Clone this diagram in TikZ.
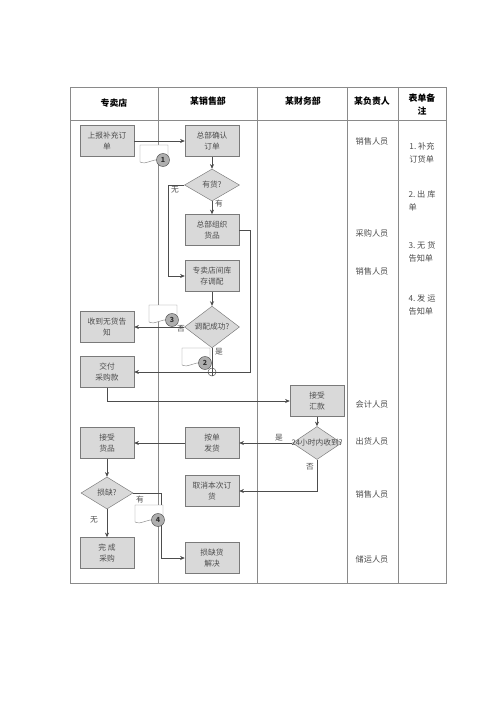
\documentclass[tikz,border=0pt]{standalone}
\usepackage{fontspec}
\setmainfont{Liberation Serif}
\newfontfamily\cjk{Noto Sans CJK SC}
\usepackage{tikz}
\usetikzlibrary{arrows.meta,positioning,shapes.geometric,calc}
\definecolor{boxfill}{HTML}{D9D9D9}
\definecolor{boxline}{HTML}{7A7A7A}
\definecolor{rule}{HTML}{8A8A8A}
\definecolor{ink}{HTML}{4D4D4D}

% document mark with numbered disc, #1/#2 = disc centre, #3 = number
\newcommand{\docmark}[4]{%
  \draw[rule, fill=white] (#1-23,#2-15) -- (#1+5,#2-15) -- (#1+5,#2-2)
    -- (#1-4,#2) .. controls (#1-12,#2-1) and (#1-16,#2+5) .. (#1-23,#2+2) -- cycle;
  \node[disc] (#4) at (#1,#2) {#3};
}

\begin{document}
\begin{tikzpicture}[yscale=-1, x=0.03cm, y=0.03cm, >=Stealth,
  every node/.style={font=\cjk\fontsize{6.6}{9}\selectfont, text=ink},
  stepbox/.style={draw=boxline, fill=boxfill, minimum width=54*0.03cm, minimum height=31*0.03cm, inner sep=0pt, align=center},
  decision/.style={diamond, draw=boxline, fill=boxfill, minimum width=55*0.03cm, minimum height=32*0.03cm, inner sep=0pt},
  flow/.style={draw=ink, semithick, -{Stealth[length=4pt,width=3.5pt]}},
  link/.style={draw=ink, semithick},
  disc/.style={circle, draw=ink, fill=boxfill!80!black, minimum size=13*0.03cm, inner sep=0pt, font=\cjk\bfseries\fontsize{6}{6}\selectfont, text=black!80},
  head/.style={font=\cjk\bfseries\fontsize{7.6}{11}\selectfont, text=black, align=center},
  who/.style={font=\cjk\fontsize{7}{9}\selectfont},
  note/.style={font=\cjk\fontsize{7}{10.5}\selectfont, align=left}]
\useasboundingbox (0,0) rectangle (500,707);

% swimlane table
\draw[rule, thick] (70,87) rectangle (446,583);
\draw[rule] (70,120) -- (446,120);
\foreach \lx in {158,257,347,398}
  \draw[rule] (\lx,87) -- (\lx,583);

\node[head] (hshop) at (114,103) {专卖店};
\node[head] (hsale) at (208,101) {某销售部};
\node[head] (hfin)  at (303,101) {某财务部};
\node[head] (hboss) at (372,101) {某负责人};
\node[head] (hform) at (422,105) {表单备\\注};

% steps
\node[stepbox] (report)  at (107,141) {上报补充订\\单};
\node[stepbox] (confirm) at (212,141) {总部确认\\订单};
\node[decision] (stock)  at (212,185) {有货?};
\node[stepbox] (gather)  at (212,230) {总部组织\\货品};
\node[stepbox] (swap)    at (212,276) {专卖店间库\\存调配};
\node[decision] (swapok) at (212,327) {调配成功?};
\node[stepbox] (nogoods) at (107,327) {收到无货告\\知};
\node[stepbox] (pay)     at (107,372) {交付\\采购款};
\node[stepbox] (remit)   at (317,401) {接受\\汇款};
\node[decision, minimum width=49*0.03cm, minimum height=33*0.03cm,
      label={[font=\cjk\fontsize{6.6}{9}\selectfont, text=ink]center:24小时内收到?}] (inday) at (317,443) {};
\node[stepbox] (ship)    at (212,443) {按单\\发货};
\node[stepbox] (cancel)  at (212,491) {取消本次订\\货};
\node[stepbox] (receive) at (107,443) {接受\\货品};
\node[decision, minimum width=52*0.03cm] (damage) at (107,493) {损缺?};
\node[stepbox] (done)    at (107,553) {完\ 成\\采购};
\node[stepbox] (repair)  at (212,558) {损缺货\\解决};

\coordinate (merge) at (212,372);

% connectors
\draw[flow] (report) -- (confirm);
\draw[flow] (confirm) -- (stock);
\draw[flow] (stock) -- (gather);
\draw[flow] (stock.west) -- ++(-16,0) |- (swap.west);
\draw[flow] (swap) -- (swapok);
\draw[flow] (swapok) -- (nogoods);
\draw[link] (swapok.south) -- (merge);
\draw[flow] (gather.east) -- ++(11,0) |- (pay.east);
\draw[flow] (pay.south) |- (remit.west);
\draw[flow] (remit) -- (inday);
\draw[flow] (inday) -- (ship);
\draw[flow] (inday.south) |- (cancel.east);
\draw[flow] (ship) -- (receive);
\draw[flow] (receive) -- (damage);
\draw[flow] (damage) -- (done);
\draw[flow] (damage.east) -- ++(28,0) |- (repair.west);

\draw[ink, fill=white] (merge) circle (4);
\draw[ink] ($(merge)+(-4,0)$) -- ++(8,0) ($(merge)+(0,-4)$) -- ++(0,8);

% branch labels
\node (lno1)  at (175,190) {无};
\node (lyes1) at (219,204) {有};
\node (lno2)  at (181,329) {否};
\node (lyes2) at (219,352) {是};
\node (lyes3) at (279,438) {是};
\node (lno3)  at (310,467) {否};
\node (lhas)  at (140,500) {有};
\node (lnone) at (94,520)  {无};

% forms
\docmark{163}{160}{1}{form1}
\docmark{205}{363}{2}{form2}
\docmark{172}{320}{3}{form3}
\docmark{158}{520}{4}{form4}

% persons in charge
\node[who] (p1) at (372,141) {销售人员};
\node[who] (p2) at (372,233) {采购人员};
\node[who] (p3) at (372,271) {销售人员};
\node[who] (p4) at (372,404) {会计人员};
\node[who] (p5) at (372,441) {出货人员};
\node[who] (p6) at (372,494) {销售人员};
\node[who] (p7) at (372,559) {储运人员};

% form notes
\node[note] (n1) at (422,153) {1.\ 补充\\订货单};
\node[note] (n2) at (422,201) {2.\ 出\ 库\\单};
\node[note] (n3) at (422,252) {3.\ 无\ 货\\告知单};
\node[note] (n4) at (422,305) {4.\ 发\ 运\\告知单};
\end{tikzpicture}
\end{document}
